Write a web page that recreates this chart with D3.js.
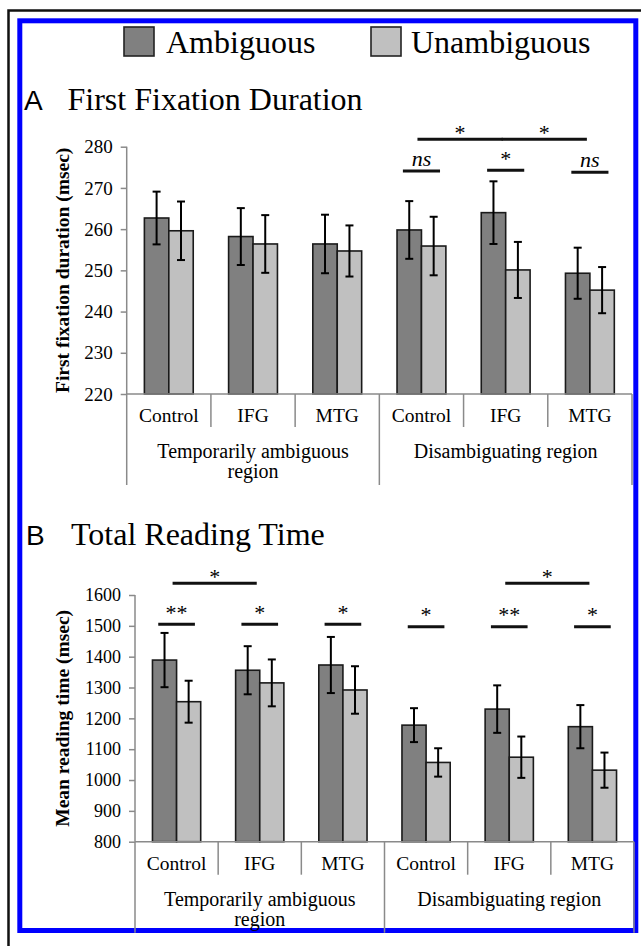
<!DOCTYPE html>
<html>
<head>
<meta charset="utf-8">
<script src="https://cdn.jsdelivr.net/npm/d3@7"></script>
<style>
  body { margin: 0; background: #fff; }
  svg { display: block; }
  text { font-family: "Liberation Serif", "Times New Roman", serif; fill: #000; }
</style>
</head>
<body>
<div id="chart"></div>
<script>
const series = ['Ambiguous', 'Unambiguous'];
const seriesColors = ['#808080', '#c0c0c0'];
const conditions = ['Control', 'IFG', 'MTG'];
const regions = [['Temporarily ambiguous', 'region'], ['Disambiguating region']];

// A: first fixation duration (msec)
const ffdTicks = [220, 230, 240, 250, 260, 270, 280];
const ffdAmbiguous = [262.7, 258.2, 256.4, 259.8, 264.0, 249.3];
const ffdUnambiguous = [259.6, 256.4, 254.7, 255.9, 250.1, 245.2];
const ffdAmbiguousErr = [6.4, 6.9, 7.1, 7.0, 7.6, 6.2];
const ffdUnambiguousErr = [7.1, 7.0, 6.2, 7.1, 6.8, 5.6];
const ffdSig = [
  { from: 3, to: 3, y: 274.1, label: 'ns' },
  { from: 4, to: 4, y: 274.3, label: '*' },
  { from: 5, to: 5, y: 273.8, label: 'ns' },
  { from: 3, to: 4, y: 281.8, label: '*' },
  { from: 4, to: 5, y: 281.8, label: '*' }
];

// B: total reading time (msec)
const trtTicks = [800, 900, 1000, 1100, 1200, 1300, 1400, 1500, 1600];
const trtAmbiguous = [1389, 1356, 1373, 1178, 1230, 1173];
const trtUnambiguous = [1254, 1315, 1292, 1057, 1074, 1032];
const trtAmbiguousErr = [88, 78, 91, 55, 77, 70];
const trtUnambiguousErr = [68, 76, 77, 46, 67, 57];
const trtSig = [
  { from: 0, to: 0, y: 1505, label: '**' },
  { from: 1, to: 1, y: 1505, label: '*' },
  { from: 2, to: 2, y: 1505, label: '*' },
  { from: 3, to: 3, y: 1497, label: '*' },
  { from: 4, to: 4, y: 1497, label: '**' },
  { from: 5, to: 5, y: 1497, label: '*' },
  { from: 0, to: 1, y: 1638, label: '*' },
  { from: 4, to: 5, y: 1638, label: '*' }
];

const W = 641, H = 946;
const svg = d3.select('#chart').append('svg')
  .attr('width', W)
  .attr('height', H);

svg.append('rect').attr('width', W).attr('height', H).attr('fill', '#fff');

// frames
svg.append('path')
  .attr('d', `M8.5,${H} V10.5 H${W}`)
  .attr('fill', 'none').attr('stroke', '#111').attr('stroke-width', 2.5);
svg.append('rect')
  .attr('x', 19.8).attr('y', 20.8).attr('width', 616).attr('height', 909.7)
  .attr('fill', 'none').attr('stroke', '#0000ff').attr('stroke-width', 5);

// legend
const legendX = [124, 371];
const legendTextX = [166, 411];
series.forEach((s, i) => {
  svg.append('rect')
    .attr('x', legendX[i]).attr('y', 27).attr('width', 30).attr('height', 29)
    .attr('fill', seriesColors[i]).attr('stroke', '#222').attr('stroke-width', 1.6);
  svg.append('text')
    .attr('x', legendTextX[i]).attr('y', 53)
    .style('font-size', '32px')
    .text(s);
});

const cells = d3.range(6);

function drawPanel(p) {
  const g = svg.append('g');

  g.append('text')
    .attr('x', p.letterX).attr('y', p.titleY)
    .style('font-family', '"Liberation Sans", Arial, sans-serif')
    .style('font-size', '28px')
    .text(p.letter);
  g.append('text')
    .attr('x', p.titleX).attr('y', p.titleY)
    .style('font-size', '32px')
    .text(p.title);

  const x = d3.scaleBand().domain(cells).range([p.x0, p.x1])
    .paddingInner(0.42).paddingOuter(0.21);
  const xs = d3.scaleBand().domain(series).range([0, x.bandwidth()]);
  const y = d3.scaleLinear().domain(d3.extent(p.ticks)).range([p.yBottom, p.yTop]);

  // y axis
  const yAxis = g.append('g')
    .attr('transform', `translate(${p.x0},0)`)
    .call(d3.axisLeft(y).tickValues(p.ticks).tickFormat(d3.format('d')).tickSize(6).tickPadding(8));
  yAxis.select('.domain').attr('stroke', '#8a8a8a').attr('stroke-width', 1.5)
    .attr('d', `M0,${p.yBottom}V${p.yTop}`);
  yAxis.selectAll('.tick line').attr('stroke', '#8a8a8a').attr('stroke-width', 1.5);
  yAxis.selectAll('.tick text')
    .style('font-family', '"Liberation Serif", "Times New Roman", serif')
    .style('font-size', p.tickFont + 'px')
    .attr('fill', '#000');

  g.append('text')
    .attr('transform', `translate(69,${(p.yTop + p.yBottom) / 2}) rotate(-90)`)
    .attr('text-anchor', 'middle')
    .style('font-size', '19.5px')
    .style('font-weight', 'bold')
    .text(p.yLabel);

  // bars
  const rows = cells.map(i => ({
    i,
    vals: [
      { s: series[0], v: p.amb[i], e: p.ambErr[i] },
      { s: series[1], v: p.unamb[i], e: p.unambErr[i] }
    ]
  }));

  const grp = g.selectAll('.cell').data(rows).enter()
    .append('g')
    .attr('class', 'cell')
    .attr('transform', d => `translate(${x(d.i)},0)`);

  grp.selectAll('rect').data(d => d.vals).enter()
    .append('rect')
    .attr('x', d => xs(d.s))
    .attr('y', d => y(d.v))
    .attr('width', xs.bandwidth())
    .attr('height', d => p.yBottom - y(d.v))
    .attr('fill', (d, i) => seriesColors[i])
    .attr('stroke', '#1a1a1a')
    .attr('stroke-width', 1.6);

  const err = grp.selectAll('.err').data(d => d.vals).enter()
    .append('g').attr('class', 'err')
    .attr('transform', d => `translate(${xs(d.s) + xs.bandwidth() / 2},0)`);
  err.append('line')
    .attr('y1', d => y(d.v + d.e)).attr('y2', d => y(d.v - d.e))
    .attr('stroke', '#000').attr('stroke-width', 2);
  err.append('line')
    .attr('x1', -4).attr('x2', 4)
    .attr('y1', d => y(d.v + d.e)).attr('y2', d => y(d.v + d.e))
    .attr('stroke', '#000').attr('stroke-width', 2);
  err.append('line')
    .attr('x1', -4).attr('x2', 4)
    .attr('y1', d => y(d.v - d.e)).attr('y2', d => y(d.v - d.e))
    .attr('stroke', '#000').attr('stroke-width', 2);

  // category axis (two levels)
  const step = x.step();
  g.append('line')
    .attr('x1', p.x0).attr('x2', p.x1)
    .attr('y1', p.yBottom).attr('y2', p.yBottom)
    .attr('stroke', '#8a8a8a').attr('stroke-width', 1.5);
  d3.range(7).forEach(k => {
    const long = k % 3 === 0;
    g.append('line')
      .attr('x1', p.x0 + k * step).attr('x2', p.x0 + k * step)
      .attr('y1', p.yBottom).attr('y2', p.yBottom + (long ? p.longDiv : 33))
      .attr('stroke', '#8a8a8a').attr('stroke-width', 1.5);
  });
  g.selectAll('.cat').data(cells).enter()
    .append('text')
    .attr('x', d => x(d) + x.bandwidth() / 2)
    .attr('y', p.yBottom + 28)
    .attr('text-anchor', 'middle')
    .style('font-size', '19.5px')
    .text(d => conditions[d % 3]);
  regions.forEach((lines, r) => {
    const t = g.append('text')
      .attr('text-anchor', 'middle')
      .style('font-size', '20px');
    lines.forEach((ln, j) => {
      t.append('tspan')
        .attr('x', p.x0 + (r * 3 + 1.5) * step)
        .attr('y', p.yBottom + 64 + j * 20)
        .text(ln);
    });
  });

  // significance markers
  const center = i => x(i) + x.bandwidth() / 2;
  p.sig.forEach(s => {
    const ly = y(s.y);
    let xa, xb;
    if (s.from === s.to) {
      xa = center(s.from) - x.bandwidth() * 0.38;
      xb = center(s.from) + x.bandwidth() * 0.38;
    } else {
      xa = center(s.from) - 4;
      xb = center(s.to) - 3;
    }
    g.append('line')
      .attr('x1', xa).attr('x2', xb)
      .attr('y1', ly).attr('y2', ly)
      .attr('stroke', '#111').attr('stroke-width', 3);
    const ns = s.label === 'ns';
    g.append('text')
      .attr('x', (xa + xb) / 2)
      .attr('y', ns ? ly - 5 : (s.from === s.to ? ly - 4.5 : ly + 1))
      .attr('text-anchor', 'middle')
      .style('font-size', '22px')
      .style('font-style', ns ? 'italic' : 'normal')
      .text(s.label);
  });
}

drawPanel({
  letter: 'A', letterX: 24, title: 'First Fixation Duration', titleX: 67.5, titleY: 110,
  x0: 126.7, x1: 632, yTop: 146.7, yBottom: 394,
  ticks: ffdTicks, tickFont: 19,
  yLabel: 'First fixation duration (msec)',
  amb: ffdAmbiguous, unamb: ffdUnambiguous,
  ambErr: ffdAmbiguousErr, unambErr: ffdUnambiguousErr,
  sig: ffdSig, longDiv: 91
});

drawPanel({
  letter: 'B', letterX: 26, title: 'Total Reading Time', titleX: 71, titleY: 545,
  x0: 135, x1: 634, yTop: 595, yBottom: 841.7,
  ticks: trtTicks, tickFont: 18,
  yLabel: 'Mean reading time (msec)',
  amb: trtAmbiguous, unamb: trtUnambiguous,
  ambErr: trtAmbiguousErr, unambErr: trtUnambiguousErr,
  sig: trtSig, longDiv: 91
});
</script>
</body>
</html>
